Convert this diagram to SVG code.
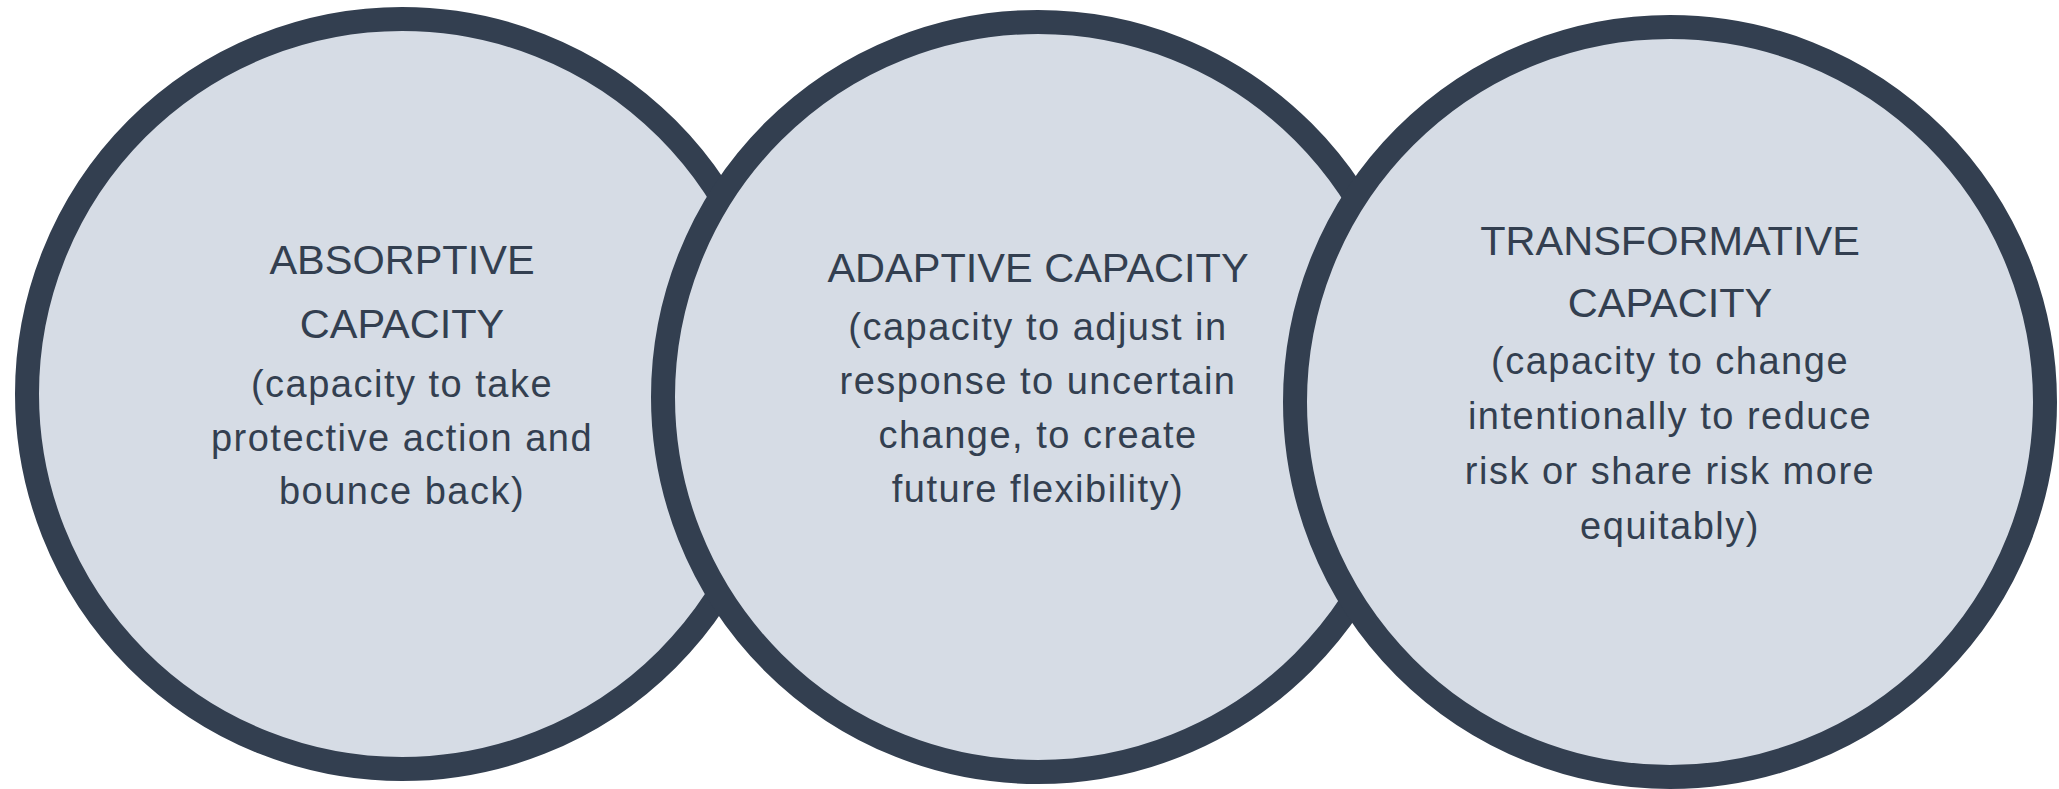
<svg xmlns="http://www.w3.org/2000/svg" width="2059" height="789" viewBox="0 0 2059 789">
  <style>
    .ring { fill: #d6dce5; stroke: #333f50; stroke-width: 24; }
    .head { font-family: "Liberation Sans", Arial, sans-serif; font-size: 41.5px; fill: #333f50; text-anchor: middle; }
    .body { font-family: "Liberation Sans", Arial, sans-serif; font-size: 38px; letter-spacing: 1.5px; fill: #333f50; text-anchor: middle; }
  </style>
  <rect width="2059" height="789" fill="#ffffff"/>
  <g id="absorptive">
    <circle class="ring" cx="402" cy="394" r="375"/>
    <text class="head" x="402" y="274">ABSORPTIVE</text>
    <text class="head" x="402" y="338">CAPACITY</text>
    <text class="body" x="402" y="397">(capacity to take</text>
    <text class="body" x="402" y="451">protective action and</text>
    <text class="body" x="402" y="504">bounce back)</text>
  </g>
  <g id="adaptive">
    <circle class="ring" cx="1038" cy="397" r="375"/>
    <text class="head" x="1038" y="282">ADAPTIVE CAPACITY</text>
    <text class="body" x="1038" y="340">(capacity to adjust in</text>
    <text class="body" x="1038" y="394">response to uncertain</text>
    <text class="body" x="1038" y="448">change, to create</text>
    <text class="body" x="1038" y="502">future flexibility)</text>
  </g>
  <g id="transformative">
    <circle class="ring" cx="1670" cy="402" r="375"/>
    <text class="head" x="1670" y="255">TRANSFORMATIVE</text>
    <text class="head" x="1670" y="317">CAPACITY</text>
    <text class="body" x="1670" y="374">(capacity to change</text>
    <text class="body" x="1670" y="429">intentionally to reduce</text>
    <text class="body" x="1670" y="484">risk or share risk more</text>
    <text class="body" x="1670" y="539">equitably)</text>
  </g>
  <g id="connectors"></g>
</svg>
